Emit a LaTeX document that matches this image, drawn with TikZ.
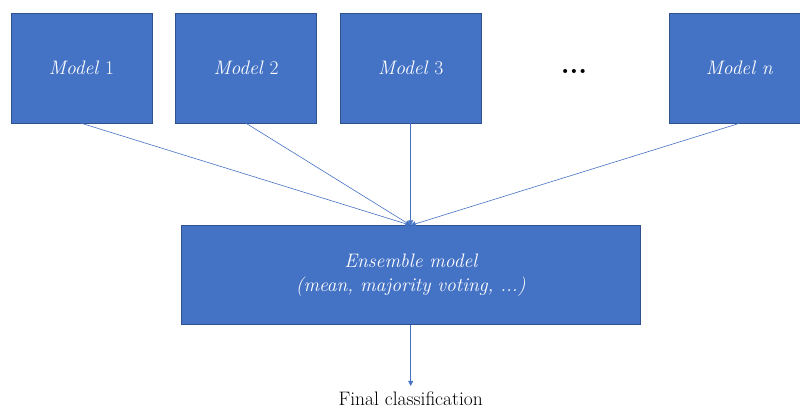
\documentclass[tikz,border=0pt]{standalone}
\usepackage{fontspec}
\usepackage{tikz}
\usetikzlibrary{positioning, arrows.meta}

\definecolor{boxblue}{HTML}{4472C4}
\definecolor{boxedge}{HTML}{2F528F}

\begin{document}
\begin{tikzpicture}[x=1pt, y=1pt,
                modelnode/.style={rectangle, draw=boxedge, fill=boxblue, line width=0.6pt, minimum width=141pt, minimum height=110pt, text=white, font=\fontsize{19.5}{22}\selectfont},
                ensnode/.style={rectangle, draw=boxedge, fill=boxblue, line width=0.6pt, minimum width=459pt, minimum height=99pt, text=white, align=center, font=\fontsize{19.5}{24}\selectfont\itshape},
                link/.style={draw=boxblue, line width=0.6pt, -{Triangle[length=5pt, width=5pt]}},
                node distance=23pt,
                ]
                \useasboundingbox (0,0) rectangle (800,408);
                %Nodes
                \node[modelnode]      (m1)      at (81.5,340)           {\textit{Model} 1};
                \node[modelnode]      (m2)      [right=of m1]           {\textit{Model} 2};
                \node[modelnode]      (m3)      [right=of m2]           {\textit{Model} 3};
                \node[modelnode]      (mn)      at (739.5,340)          {\textit{Model n}};
                \node[font=\fontsize{28}{28}\selectfont\bfseries] (dots) at (574,337) {...};
                \node[ensnode]        (ens)     [below=102pt of m3]     {Ensemble model\\(mean, majority voting, ...)};
                \node[font=\fontsize{19.5}{22}\selectfont, inner sep=1pt, outer sep=5pt, anchor=north] (final) at ([yshift=-61pt]ens.south) {Final classification};
                
                %Lines
                \draw[link] (m1.south) -- (ens.north);
                \draw[link] (m2.south) -- (ens.north);
                \draw[link] (m3.south) -- (ens.north);
                \draw[link] (mn.south) -- (ens.north);
                \draw[link] (ens.south) -- (final.north);
                \end{tikzpicture}
\end{document}
